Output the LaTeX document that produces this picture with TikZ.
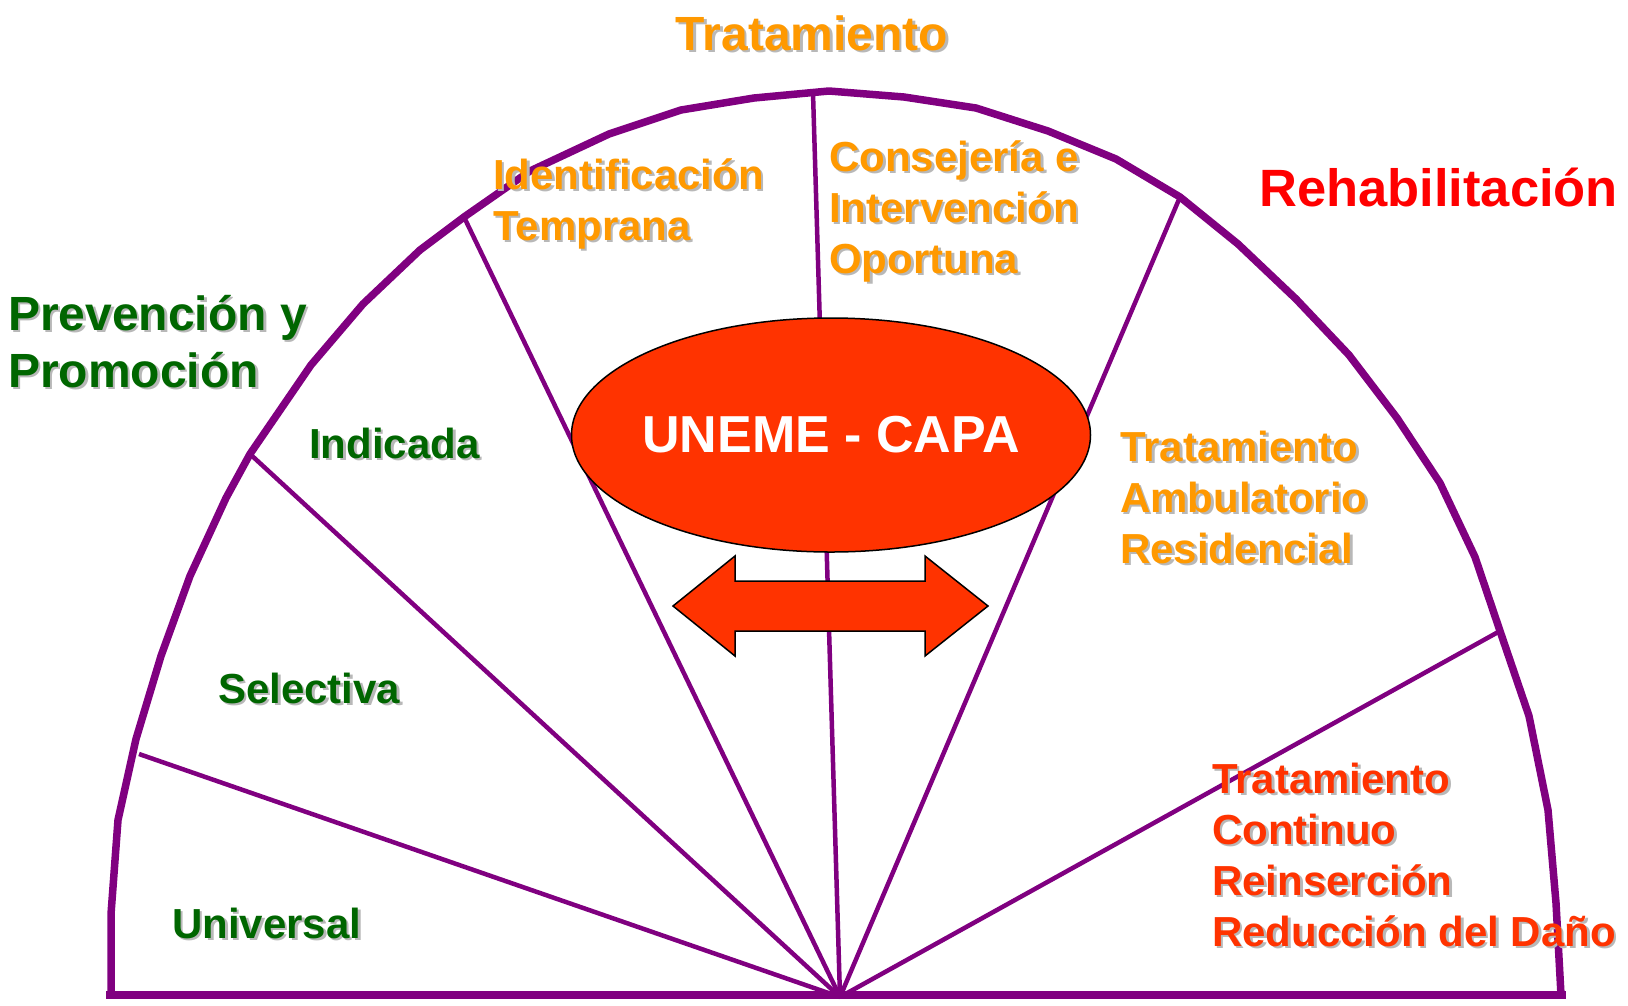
\documentclass[tikz,border=0pt]{standalone}
\usepackage{fontspec}
\setmainfont{Liberation Sans}
\usetikzlibrary{shapes.geometric}
\definecolor{rimpurple}{HTML}{800080}
\definecolor{txorange}{HTML}{FF9900}
\definecolor{txgreen}{HTML}{006600}
\definecolor{txred}{HTML}{FF0000}
\definecolor{capared}{HTML}{FF3300}
\colorlet{shadegray}{black!28}
% text with a light drop shadow
\newcommand{\shd}[1]{\rlap{\kern2.5pt\raisebox{-2.5pt}{\color{shadegray}#1}}#1}
\tikzset{
  rim/.style={draw=rimpurple, line width=7.5pt, line join=round},
  spoke/.style={draw=rimpurple, line width=4.5pt},
  lbl/.style={inner sep=0pt, anchor=base west, align=left,
    font=\bfseries\fontsize{42}{51}\selectfont},
  head/.style={lbl, font=\bfseries\fontsize{48}{57}\selectfont},
}
\begin{document}
\begin{tikzpicture}[x=1pt,y=-1pt]
    \useasboundingbox (0,0) rectangle (1628,1005);
    % hub and the ends of the spokes on the rim
    \coordinate (hub) at (840,997);
    \coordinate (s1) at (139,754);
    \coordinate (s2) at (250,454);
    \coordinate (s3) at (464,217);
    \coordinate (s4) at (813,93);
    \coordinate (s5) at (1180,197);
    \coordinate (s6) at (1500,631);
    \foreach \s in {s1,s2,s3,s4,s5,s6}
        \draw [spoke] (hub) -- (\s);
    % rim
    \draw [rim] (111,995) -- (111,914) -- (118,820) -- (136,739) -- (161,656)
        -- (190,576) -- (226,498) -- (250,454) -- (311,365) -- (363,304)
        -- (420,250) -- (464,217) -- (530,171) -- (609,134) -- (681,110)
        -- (754,98) -- (829,91) -- (904,97) -- (976,108) -- (1048,131)
        -- (1116,159) -- (1180,197) -- (1238,244) -- (1296,299) -- (1349,355)
        -- (1397,418) -- (1440,483) -- (1475,557) -- (1500,631) -- (1529,716)
        -- (1548,810) -- (1556,903) -- (1561,995);
    \draw [rim] (106,995) -- (1566,995);
    % centre
    \node [ellipse, draw=black, line width=1.5pt, fill=capared, inner xsep=-8pt,
        inner ysep=0pt, minimum width=519pt, minimum height=234pt, text=white,
        font=\bfseries\fontsize{52}{60}\selectfont] (uneme) at (831,435) {UNEME - CAPA};
    \draw [black, line width=1.5pt, fill=capared] (673,606) -- (735,556) -- (735,581)
        -- (925,581) -- (925,556) -- (988,606) -- (925,656) -- (925,631)
        -- (735,631) -- (735,656) -- cycle;
    % headings (multi-line nodes sit on their last line)
    \node [head, anchor=base, text=txorange] (tratamiento) at (812,50) {\shd{Tratamiento}};
    \node [head, text=txgreen] (prevencion) at (8,387) {\shd{Prevención y}\\\shd{Promoción}};
    \node [head, text=txred, font=\bfseries\fontsize{52.5}{60}\selectfont] (rehab) at (1259,206) {Rehabilitación};
    % sectors
    \node [lbl, text=txgreen] (universal) at (172,938) {\shd{Universal}};
    \node [lbl, text=txgreen] (selectiva) at (218,703) {\shd{Selectiva}};
    \node [lbl, text=txgreen] (indicada) at (309,458) {\shd{Indicada}};
    \node [lbl, text=txorange] (identif) at (493,240) {\shd{Identificación}\\\shd{Temprana}};
    \node [lbl, text=txorange] (consejeria) at (829,273) {\shd{Consejería e}\\\shd{Intervención}\\\shd{Oportuna}};
    \node [lbl, text=txorange] (ambulatorio) at (1120,563) {\shd{Tratamiento}\\\shd{Ambulatorio}\\\shd{Residencial}};
    \node [lbl, text=capared] (continuo) at (1212,946) {\shd{Tratamiento}\\\shd{Continuo}\\\shd{Reinserción}\\\shd{Reducción del Daño}};
\end{tikzpicture}
\end{document}
